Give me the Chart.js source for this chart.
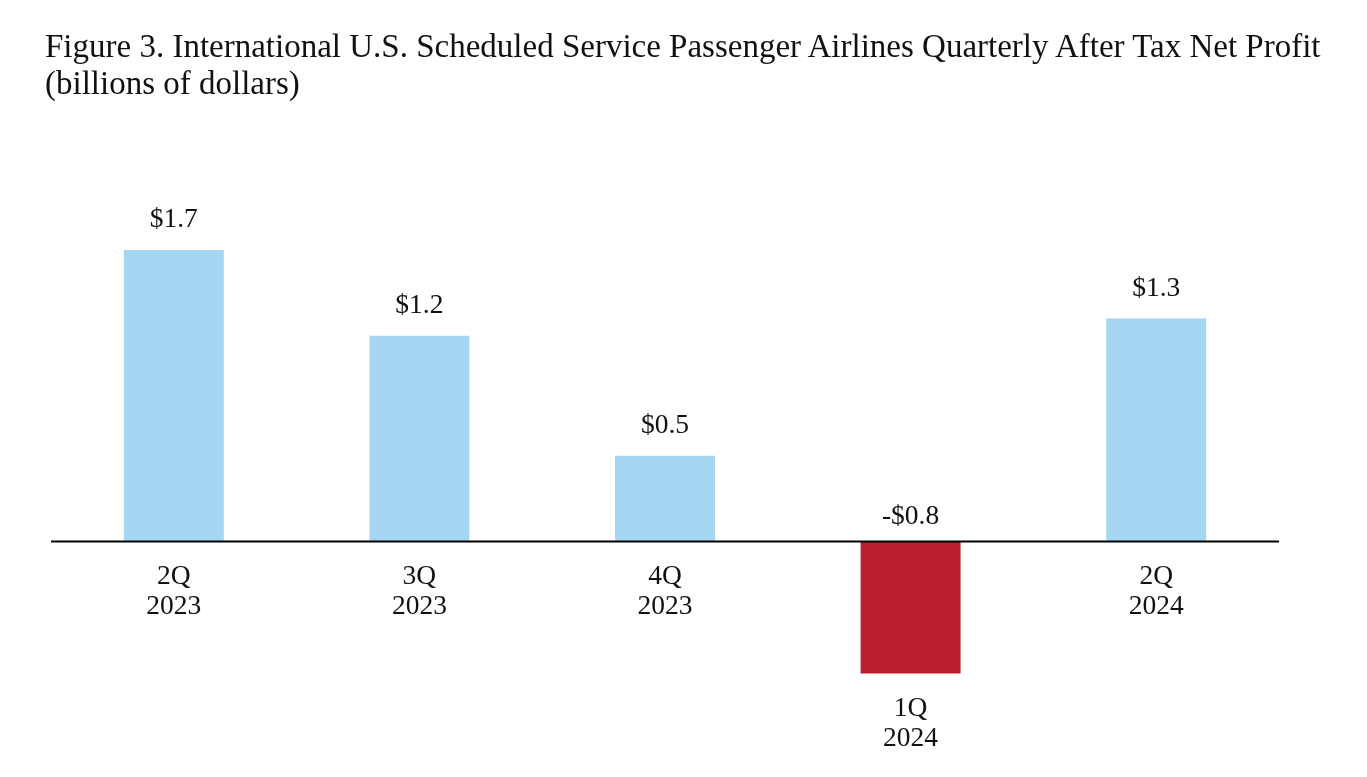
<!DOCTYPE html>
<html>
<head>
<meta charset="utf-8">
<script src="https://cdn.jsdelivr.net/npm/chart.js@4/dist/chart.umd.min.js"></script>
<style>
  html, body { margin: 0; padding: 0; background: #ffffff; }
  #wrap { position: relative; width: 1367px; height: 777px; overflow: hidden; }
  #title {
    position: absolute; left: 45px; top: 28px;
    font-family: "Liberation Serif", "Times New Roman", serif;
    font-size: 33px; line-height: 37px; color: #111111; white-space: nowrap;
  }
  canvas { position: absolute; left: 0; top: 0; }
</style>
</head>
<body>
<div id="wrap">
  <canvas id="c" width="1367" height="777"></canvas>
  <div id="title">Figure 3. International U.S. Scheduled Service Passenger Airlines Quarterly After Tax Net Profit<br>(billions of dollars)</div>
</div>
<script>
const quarters = ['2Q', '3Q', '4Q', '1Q', '2Q'];
const years = ['2023', '2023', '2023', '2024', '2024'];
const profits = [1.7, 1.2, 0.5, -0.77, 1.3];

const POS_COLOR = '#a6d6f1';
const NEG_COLOR = '#b91f2f';
const FONT = '"Liberation Serif", "Times New Roman", serif';

function fmt(v) {
  return (v < 0 ? '-' : '') + '$' + Math.abs(v).toFixed(1);
}

const labelPlugin = {
  id: 'customLabels',
  afterDatasetsDraw(chart) {
    const ctx = chart.ctx;
    const yScale = chart.scales.y;
    const area = chart.chartArea;
    const zeroY = yScale.getPixelForValue(0);
    ctx.save();
    ctx.strokeStyle = '#000000';
    ctx.lineWidth = 2;
    ctx.beginPath();
    ctx.moveTo(area.left, zeroY);
    ctx.lineTo(area.right, zeroY);
    ctx.stroke();

    ctx.fillStyle = '#111111';
    ctx.font = '27.5px ' + FONT;
    ctx.textAlign = 'center';
    ctx.textBaseline = 'middle';
    const meta = chart.getDatasetMeta(0);
    meta.data.forEach((bar, i) => {
      const v = profits[i];
      const x = bar.x;
      const valY = v >= 0 ? bar.y - 30 : zeroY - 24.5;
      ctx.fillText(fmt(v), x, valY);
      const base = Math.max(zeroY, bar.y);
      ctx.fillText(quarters[i], x, base + 35.5);
      ctx.fillText(years[i], x, base + 65.5);
    });
    ctx.restore();
  }
};

new Chart(document.getElementById('c'), {
  type: 'bar',
  data: {
    labels: quarters.map((q, i) => q + ' ' + years[i]),
    datasets: [{
      data: profits,
      backgroundColor: profits.map(v => v < 0 ? NEG_COLOR : POS_COLOR),
      borderWidth: 0,
      barPercentage: 0.407,
      categoryPercentage: 1.0
    }]
  },
  options: {
    responsive: false,
    animation: false,
    devicePixelRatio: 1,
    layout: { padding: { left: 51, right: 88, top: 198.5, bottom: 29.7 } },
    plugins: {
      legend: { display: false },
      title: { display: false },
      tooltip: { enabled: false }
    },
    scales: {
      x: { display: false },
      y: { display: false, min: -1.2, max: 2.0 }
    }
  },
  plugins: [labelPlugin]
});
</script>
</body>
</html>
